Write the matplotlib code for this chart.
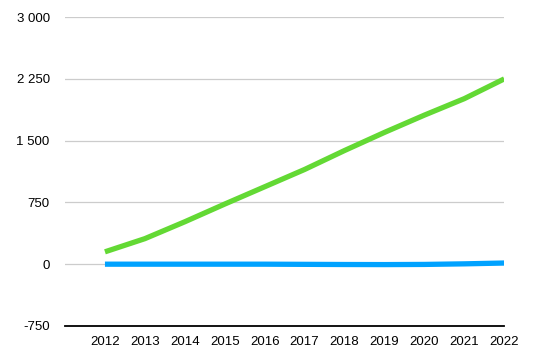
import matplotlib
matplotlib.use("Agg")
import matplotlib.pyplot as plt
from matplotlib.ticker import FuncFormatter

years = [2012, 2013, 2014, 2015, 2016, 2017, 2018, 2019, 2020, 2021, 2022]
green_vals = [150, 310, 515, 730, 940, 1150, 1380, 1600, 1810, 2010, 2250]
blue_vals = [0, 0, 0, 0, 0, -2, -4, -5, -3, 4, 14]
y_ticks = [-750, 0, 750, 1500, 2250, 3000]

plt.rcParams['font.family'] = ['Liberation Sans', 'DejaVu Sans']

fig = plt.figure(figsize=(5.33, 3.57), dpi=100)
ax = fig.add_axes([0.122, 0.087, 0.824, 0.865])

ax.plot(years, green_vals, color='#63D934', lw=3.8, solid_capstyle='butt', zorder=3)
ax.plot(years, blue_vals, color='#00A2FF', lw=3.8, solid_capstyle='butt', zorder=3)

ax.set_xlim(2011, 2022)
ax.set_ylim(-750, 3000)
ax.set_yticks(y_ticks)
ax.set_xticks(years)
ax.yaxis.set_major_formatter(FuncFormatter(lambda v, p: f"{int(v):,}".replace(",", " ")))
ax.grid(axis='y', color='#cccccc', lw=0.9)
ax.set_axisbelow(True)
for s in ['top', 'right', 'left']:
    ax.spines[s].set_visible(False)
ax.spines['bottom'].set_color('black')
ax.spines['bottom'].set_linewidth(1.3)
ax.spines['bottom'].set_zorder(4)
ax.tick_params(axis='both', length=0, labelsize=9.5, colors='black')
ax.tick_params(axis='y', pad=11)
ax.tick_params(axis='x', pad=7)

fig.savefig("out.png", dpi=100)
